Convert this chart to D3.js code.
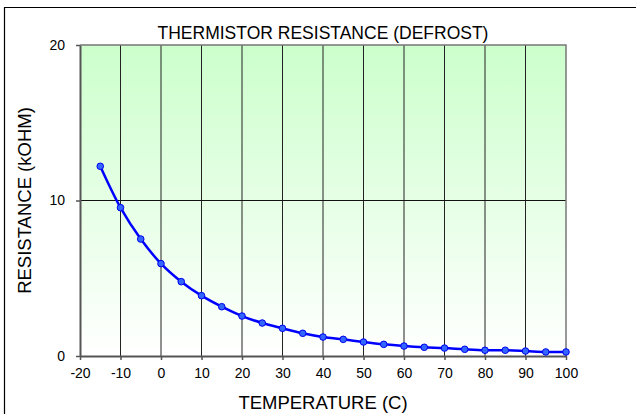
<!DOCTYPE html>
<html>
<head>
<meta charset="utf-8">
<script src="https://cdn.jsdelivr.net/npm/d3@7"></script>
<style>
  html, body { margin: 0; padding: 0; background: #fff; }
  svg { display: block; }
  text { font-family: "Liberation Sans", Arial, sans-serif; fill: #000; }
</style>
</head>
<body>
<svg id="chart" width="636" height="414"></svg>
<script>
// Thermistor resistance (kOhm) against temperature (C)
const temperatures = [-15, -10, -5, 0, 5, 10, 15, 20, 25, 30, 35, 40, 45, 50, 55, 60, 65, 70, 75, 80, 85, 90, 95, 100];
const resistances  = [12.2, 9.54, 7.52, 5.94, 4.78, 3.88, 3.17, 2.57, 2.12, 1.78, 1.46, 1.22, 1.07, 0.90, 0.75, 0.64, 0.56, 0.51, 0.43, 0.37, 0.37, 0.32, 0.26, 0.26];
const xTicks = [-20, -10, 0, 10, 20, 30, 40, 50, 60, 70, 80, 90, 100];
const yTicks = [0, 10, 20];

const titleText = "THERMISTOR RESISTANCE (DEFROST)";
const xTitle = "TEMPERATURE (C)";
const yTitle = "RESISTANCE (kOHM)";

const svg = d3.select("#chart");
const plot = { left: 80, right: 566, top: 45, bottom: 356 };

const x = d3.scaleLinear().domain([-20, 100]).range([plot.left, plot.right]);
const y = d3.scaleLinear().domain([0, 20]).range([plot.bottom, plot.top]);

// outer frame (open to the right and bottom)
svg.append("path")
  .attr("d", `M4.5,414 V7.5 H636`)
  .attr("fill", "none").attr("stroke", "#000").attr("stroke-width", 1.2);

// background gradient
const defs = svg.append("defs");
const grad = defs.append("linearGradient").attr("id", "bg").attr("x1", 0).attr("y1", 0).attr("x2", 0).attr("y2", 1);
grad.append("stop").attr("offset", "0%").attr("stop-color", "#ccffcc");
grad.append("stop").attr("offset", "100%").attr("stop-color", "#ffffff");

svg.append("rect")
  .attr("x", plot.left).attr("y", plot.top)
  .attr("width", plot.right - plot.left).attr("height", plot.bottom - plot.top)
  .attr("fill", "url(#bg)");

// vertical gridlines
svg.append("g").selectAll("line").data(xTicks.slice(1, -1)).join("line")
  .attr("x1", d => x(d)).attr("x2", d => x(d))
  .attr("y1", plot.top).attr("y2", plot.bottom)
  .attr("stroke", "#222").attr("stroke-width", 1);

// horizontal gridline
svg.append("g").selectAll("line").data(yTicks.slice(1, -1)).join("line")
  .attr("x1", plot.left).attr("x2", plot.right)
  .attr("y1", d => y(d)).attr("y2", d => y(d))
  .attr("stroke", "#111").attr("stroke-width", 1);

// plot border top/right
svg.append("path")
  .attr("d", `M${plot.left},${plot.top} H${plot.right} V${plot.bottom}`)
  .attr("fill", "none").attr("stroke", "#777").attr("stroke-width", 1.5);

// axes
const xAxis = d3.axisBottom(x).tickValues(xTicks).tickFormat(d => String(d))
  .tickSize(4).tickSizeOuter(0).tickPadding(8);
const yAxis = d3.axisLeft(y).tickValues(yTicks).tickFormat(d => String(d))
  .tickSize(4).tickSizeOuter(0).tickPadding(11);

const gx = svg.append("g").attr("transform", `translate(0,${plot.bottom})`).call(xAxis);
const gy = svg.append("g").attr("transform", `translate(${plot.left},0)`).call(yAxis);

[gx, gy].forEach(g => {
  g.select(".domain").attr("stroke", "#555").attr("stroke-width", 2);
  g.selectAll(".tick line").attr("stroke", "#555").attr("stroke-width", 1.5);
  g.selectAll(".tick text").attr("font-size", 14).attr("fill", "#000")
    .attr("font-family", "'Liberation Sans', Arial, sans-serif");
});

// data line
const line = d3.line()
  .x((d, i) => x(temperatures[i]))
  .y(d => y(d))
  .curve(d3.curveCatmullRom);

svg.append("path")
  .datum(resistances)
  .attr("d", line)
  .attr("fill", "none").attr("stroke", "#0000ff").attr("stroke-width", 2.5);

svg.append("g").selectAll("circle").data(resistances).join("circle")
  .attr("cx", (d, i) => x(temperatures[i]))
  .attr("cy", d => y(d))
  .attr("r", 3.3)
  .attr("fill", "#3366ff").attr("stroke", "#0000ee").attr("stroke-width", 1);

// titles
svg.append("text")
  .attr("x", (plot.left + plot.right) / 2).attr("y", 38.5)
  .attr("text-anchor", "middle").attr("font-size", 17.5)
  .text(titleText);

svg.append("text")
  .attr("x", (plot.left + plot.right) / 2).attr("y", 408.5)
  .attr("text-anchor", "middle").attr("font-size", 18.5)
  .text(xTitle);

svg.append("text")
  .attr("transform", `translate(31,${(plot.top + plot.bottom) / 2}) rotate(-90)`)
  .attr("text-anchor", "middle").attr("font-size", 18.5)
  .text(yTitle);
</script>
</body>
</html>
